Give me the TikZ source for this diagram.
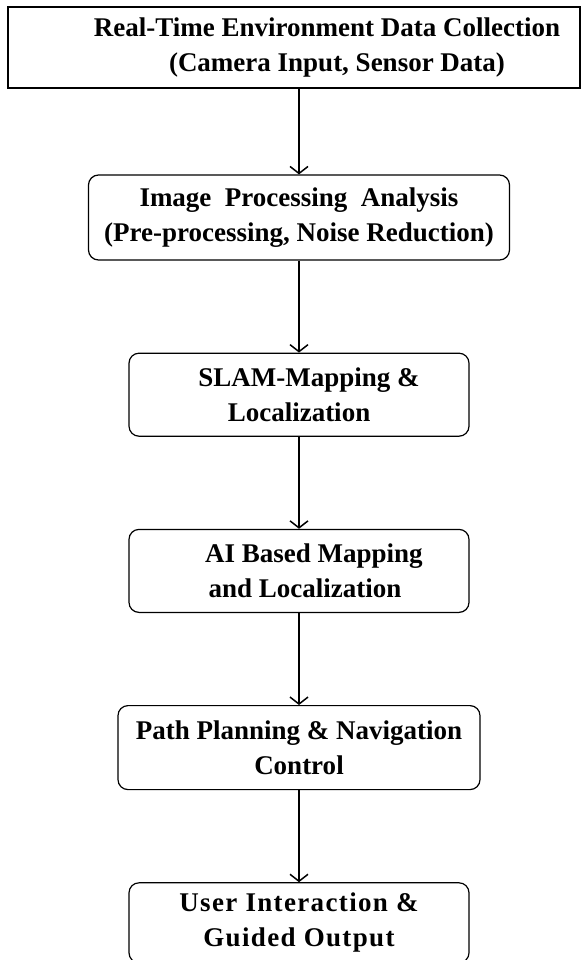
\documentclass[tikz,border=0pt]{standalone}
\usepackage{fontspec}
\setmainfont{Liberation Serif}
\usetikzlibrary{positioning,arrows.meta}

\begin{document}
\begin{tikzpicture}[x=1pt,y=1pt,
	font=\bfseries\fontsize{27}{35}\selectfont,
	stage/.style={draw, rounded corners=10pt, line width=1.2pt, minimum width=340pt, minimum height=83pt, align=center, inner sep=0pt},
	flow/.style={line width=1.5pt, -{Straight Barb[length=7pt,width=18pt,line width=1.5pt]}},
	node distance=92pt]
	\useasboundingbox (0,0) rectangle (581,-960);

	% input box
	\node[draw, line width=1.2pt, minimum width=572pt, minimum height=81pt, inner sep=0pt] (collect) at (294,-47.5) {};
	\node[align=center] (collecttext) at ([xshift=33pt]collect.center) {Real-Time Environment Data Collection\\ \hspace{20pt}(Camera Input, Sensor Data)};

	% processing chain
	\node[stage, minimum width=421pt, minimum height=85pt] (process) at (299,-217.5) {Image\ \ Processing\ \ Analysis\\(Pre-processing, Noise Reduction)};
	\node[stage, below=of process] (slam) {\hspace{20pt}SLAM-Mapping \&\\Localization};
	\node[stage, below=of slam] (aimap) {\hspace{30pt}AI Based Mapping\\\hspace{12pt}and Localization};
	\node[stage, below=of aimap, minimum width=362pt, minimum height=84pt] (path) {Path Planning \& Navigation\\Control};
	\node[stage, below=of path, minimum height=80pt, font=\bfseries\fontsize{27}{35}\selectfont\addfontfeature{LetterSpace=5}] (output) {User Interaction \&\\Guided Output};

	\draw[flow] (collect.south -| process.north) -- (process.north);
	\draw[flow] (process) -- (slam);
	\draw[flow] (slam) -- (aimap);
	\draw[flow] (aimap) -- (path);
	\draw[flow] (path) -- (output);
\end{tikzpicture}
\end{document}
